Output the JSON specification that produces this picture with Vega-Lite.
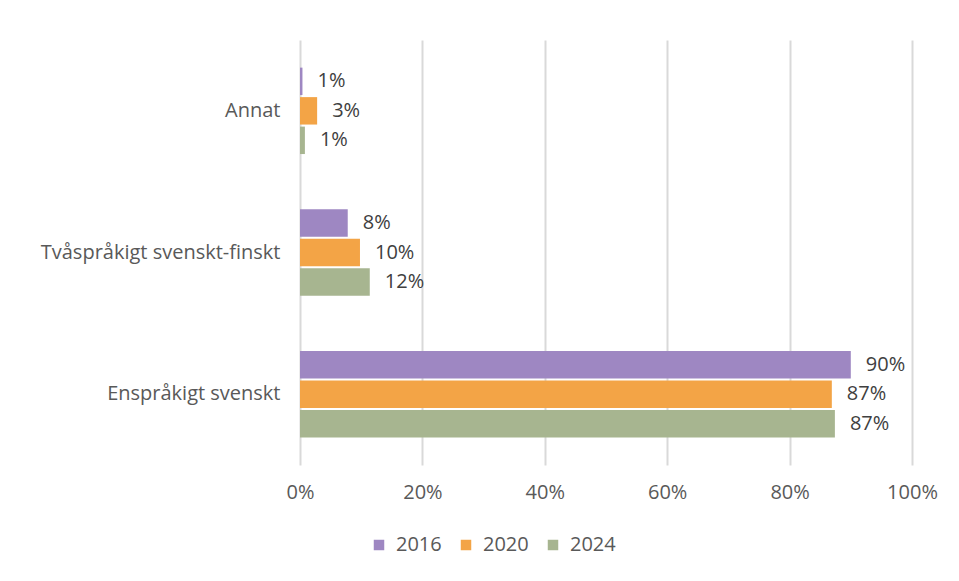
{
  "$schema": "https://vega.github.io/schema/vega-lite/v6.json",
  "width": 612,
  "height": 425,
  "autosize": {"type": "none"},
  "padding": {"left": 300, "top": 40, "right": 47, "bottom": 116},
  "background": "white",
  "config": {
    "view": {"stroke": null},
    "font": "Open Sans",
    "axis": {"labelFont": "Open Sans", "labelColor": "#595959", "labelFontSize": 20, "labelLimit": 400},
    "legend": {"labelFont": "Open Sans", "labelColor": "#595959", "labelFontSize": 20}
  },
  "data": {
    "values": [
      {"kategori": "Annat", "år": "2016", "andel": 0.004, "etikett": "1%"},
      {"kategori": "Annat", "år": "2020", "andel": 0.028, "etikett": "3%"},
      {"kategori": "Annat", "år": "2024", "andel": 0.008, "etikett": "1%"},
      {"kategori": "Tvåspråkigt svenskt-finskt", "år": "2016", "andel": 0.078, "etikett": "8%"},
      {"kategori": "Tvåspråkigt svenskt-finskt", "år": "2020", "andel": 0.098, "etikett": "10%"},
      {"kategori": "Tvåspråkigt svenskt-finskt", "år": "2024", "andel": 0.114, "etikett": "12%"},
      {"kategori": "Enspråkigt svenskt", "år": "2016", "andel": 0.900, "etikett": "90%"},
      {"kategori": "Enspråkigt svenskt", "år": "2020", "andel": 0.869, "etikett": "87%"},
      {"kategori": "Enspråkigt svenskt", "år": "2024", "andel": 0.874, "etikett": "87%"}
    ]
  },
  "encoding": {
    "y": {
      "field": "kategori",
      "type": "nominal",
      "sort": ["Annat", "Tvåspråkigt svenskt-finskt", "Enspråkigt svenskt"],
      "scale": {"paddingInner": 0.39, "paddingOuter": 0.195},
      "axis": {"title": null, "domain": false, "ticks": false, "labelPadding": 20}
    },
    "yOffset": {
      "field": "år",
      "type": "nominal",
      "sort": ["2016", "2020", "2024"],
      "scale": {"paddingInner": 0.07}
    },
    "x": {
      "field": "andel",
      "type": "quantitative",
      "scale": {"domain": [0, 1]},
      "axis": {
        "title": null,
        "format": ".0%",
        "values": [0, 0.2, 0.4, 0.6, 0.8, 1.0],
        "domain": false,
        "ticks": false,
        "grid": true,
        "gridColor": "#d9d9d9",
        "gridWidth": 2,
        "labelPadding": 17,
        "labelFlush": false
      }
    }
  },
  "layer": [
    {
      "mark": {"type": "bar"},
      "encoding": {
        "color": {
          "field": "år",
          "type": "nominal",
          "scale": {"domain": ["2016", "2020", "2024"], "range": ["#9e87c2", "#f3a446", "#a7b590"]},
          "legend": {
            "title": null,
            "orient": "none",
            "direction": "horizontal",
            "legendX": 69,
            "legendY": 495,
            "symbolType": "square",
            "symbolSize": 110,
            "symbolStrokeWidth": 0,
            "symbolOpacity": 1,
            "columnPadding": 14,
            "labelOffset": 7
          }
        }
      }
    },
    {
      "mark": {"type": "text", "align": "left", "dx": 15, "fontSize": 20, "color": "#404040", "font": "Open Sans"},
      "encoding": {"text": {"field": "etikett"}}
    }
  ]
}
